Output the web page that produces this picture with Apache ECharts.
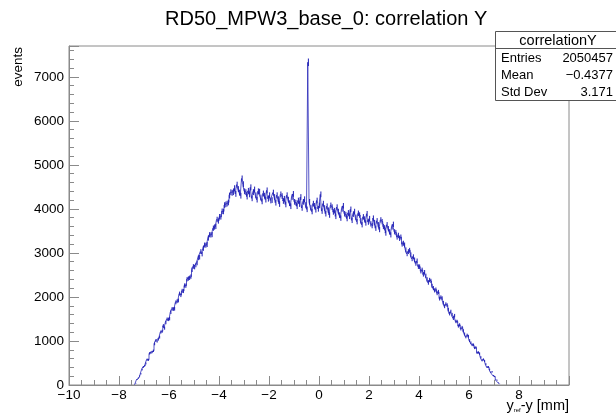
<!DOCTYPE html>
<html>
<head>
<meta charset="utf-8">
<script src="https://cdn.jsdelivr.net/npm/echarts@6/dist/echarts.min.js"></script>
<style>
html,body{margin:0;padding:0;background:#fff;}
#chart{width:616px;height:415px;}
</style>
</head>
<body>
<div id="chart"></div>
<script>
// ---- data ----
const chartTitle = 'RD50_MPW3_base_0: correlation Y';
const xTickLabels = [-10, -8, -6, -4, -2, 0, 2, 4, 6, 8];
const yTickLabels = [0, 1000, 2000, 3000, 4000, 5000, 6000, 7000];
const binWidth = 0.05;
const firstBinLow = -7.4;
// bin contents, bins of 0.05 mm starting at -7.4
const counts = [
  10, 40, 125, 160, 205, 255, 350, 410, 440, 490,
  576, 572, 718, 734, 750, 777, 933, 1009, 995, 1041,
  1087, 1203, 1220, 1346, 1292, 1418, 1494, 1490, 1506, 1653,
  1729, 1725, 1731, 1877, 1903, 1920, 2076, 2042, 2138, 2134,
  2260, 2256, 2403, 2419, 2435, 2461, 2617, 2693, 2679, 2726,
  2772, 2888, 2904, 3030, 2976, 3103, 3179, 3175, 3191, 3337,
  3413, 3409, 3416, 3562, 3588, 3604, 3760, 3726, 3822, 3819,
  3945, 3941, 4087, 4103, 4120, 4146, 4302, 4378, 4364, 4380,
  4470, 4340, 4550, 4450, 4370, 4300, 4690, 4560, 4400, 4380,
  4280, 4410, 4330, 4490, 4240, 4380, 4440, 4310, 4210, 4400,
  4390, 4260, 4170, 4350, 4300, 4210, 4420, 4230, 4310, 4190,
  4200, 4370, 4270, 4140, 4310, 4220, 4110, 4330, 4290, 4180,
  4230, 4100, 4310, 4210, 4130, 4060, 4270, 4340, 4160, 4140,
  4060, 4190, 4110, 4270, 4020, 4160, 4220, 4090, 3990, 7330,
  4160, 4030, 3940, 4120, 4070, 3980, 4190, 4000, 4080, 4330,
  3950, 4120, 4020, 3890, 4060, 3970, 3860, 4080, 4040, 3930,
  3960, 3830, 4040, 3940, 3860, 3790, 4000, 4070, 3890, 3870,
  3780, 3910, 3830, 3990, 3740, 3880, 3940, 3810, 3710, 3900,
  3860, 3730, 3640, 3820, 3770, 3680, 3890, 3700, 3780, 3660,
  3620, 3790, 3690, 3560, 3730, 3640, 3530, 3750, 3710, 3600,
  3570, 3450, 3640, 3550, 3480, 3410, 3590, 3650, 3480, 3460,
  3360, 3400, 3330, 3360, 3200, 3220, 3180, 3070, 2980, 3030,
  3059, 2957, 2866, 2914, 2843, 2761, 2820, 2688, 2687, 2585,
  2614, 2512, 2561, 2479, 2398, 2326, 2385, 2363, 2252, 2200,
  2149, 2167, 2086, 2114, 1963, 1991, 1970, 1868, 1787, 1835,
  1814, 1712, 1621, 1669, 1598, 1516, 1575, 1443, 1442, 1340,
  1365, 1275, 1306, 1232, 1159, 1093, 1132, 1106, 1009, 959,
  913, 913, 844, 851, 733, 740, 713, 629, 560, 581,
  544, 472, 406, 409, 353, 291, 300, 213, 192, 120,
  110, 55, 25
];
const statsName = 'correlationY';
const statsRows = [['Entries', '2050457'], ['Mean', '\u22120.4377'], ['Std Dev', '3.171']];

// ---- chart ----
const FONT = 'Liberation Sans, Arial, Helvetica, sans-serif';
const frameColor = '#8a8a8a';
const lineColor = '#1c1cb4';
// bin centre, content, Poisson error
const histData = counts.map((v, i) => [firstBinLow + (i + 0.5) * binWidth, v, Math.sqrt(v)]);
const minus = s => String(s).replace('-', '\u2212');

const chart = echarts.init(document.getElementById('chart'), null, {renderer: 'canvas'});
const gL = 69, gR = 569, gT = 46, gB = 385;

const statsGraphics = [
  {type: 'rect', z: 100, shape: {x: 495.5, y: 31.5, width: 130, height: 69}, style: {fill: '#fff', stroke: '#555', lineWidth: 1}},
  {type: 'line', z: 101, shape: {x1: 495.5, y1: 48.5, x2: 620, y2: 48.5}, style: {stroke: '#555', lineWidth: 1}},
  {type: 'text', z: 101, x: 558, y: 40.5, style: {text: statsName, align: 'center', verticalAlign: 'middle', fontSize: 14.5, fontFamily: FONT, fill: '#000'}}
];
statsRows.forEach((r, i) => {
  const yy = 58 + i * 17;
  statsGraphics.push({type: 'text', z: 101, x: 501, y: yy, style: {text: r[0], align: 'left', verticalAlign: 'middle', fontSize: 13, fontFamily: FONT, fill: '#000'}});
  statsGraphics.push({type: 'text', z: 101, x: 613, y: yy, style: {text: r[1], align: 'right', verticalAlign: 'middle', fontSize: 13, fontFamily: FONT, fill: '#000'}});
});

const option = {
  backgroundColor: '#fff',
  animation: false,
  title: {
    text: chartTitle, left: 160, top: 4,
    textStyle: {fontSize: 20, fontWeight: 'normal', fontFamily: FONT, color: '#000'}
  },
  grid: {left: gL, right: 616 - gR, top: gT, bottom: 415 - gB, show: true, borderColor: frameColor, borderWidth: 1, backgroundColor: 'transparent'},
  xAxis: {
    type: 'value', min: -10, max: 10, interval: 2,
    axisLine: {show: true, onZero: false, lineStyle: {color: frameColor, width: 1}},
    axisTick: {show: true, inside: true, length: 9, lineStyle: {color: frameColor}},
    minorTick: {show: true, splitNumber: 4, length: 5, lineStyle: {color: frameColor}},
    axisLabel: {
      margin: 3, fontSize: 13.5, fontFamily: FONT, color: '#000',
      formatter: v => (xTickLabels.indexOf(v) >= 0 ? minus(v) : '')
    },
    splitLine: {show: false}, minorSplitLine: {show: false}
  },
  yAxis: [{
    type: 'value', min: 0, max: 7700, interval: 1000, position: 'left',
    axisLine: {show: true, onZero: false, lineStyle: {color: frameColor, width: 1}},
    axisTick: {show: true, inside: true, length: 10, lineStyle: {color: frameColor}},
    axisLabel: {
      margin: 5, fontSize: 13.5, fontFamily: FONT, color: '#000',
      formatter: v => (yTickLabels.indexOf(v) >= 0 ? String(v) : '')
    },
    splitLine: {show: false}
  }, {
    type: 'value', min: 0, max: 7700, interval: 200, position: 'left',
    axisLine: {show: false, onZero: false},
    axisTick: {show: true, inside: true, length: 5, lineStyle: {color: frameColor}},
    axisLabel: {show: false},
    splitLine: {show: false}
  }],
  series: [{
    type: 'line', step: 'middle', data: histData, yAxisIndex: 0,
    encode: {x: 0, y: 1},
    showSymbol: false, symbol: 'none',
    lineStyle: {color: lineColor, width: 1, opacity: 0.75},
    itemStyle: {color: lineColor},
    z: 5
  }, {
    type: 'custom', data: histData, yAxisIndex: 0,
    encode: {x: 0, y: 1},
    renderItem: function (params, api) {
      const x = api.value(0), v = api.value(1), e = api.value(2);
      const p1 = api.coord([x, v - e]);
      const p2 = api.coord([x, v + e]);
      return {type: 'line', shape: {x1: p1[0], y1: p1[1], x2: p2[0], y2: p2[1]},
              style: {stroke: lineColor, lineWidth: 1}};
    },
    z: 6
  }],
  graphic: [
    {type: 'text', z: 100, x: 11, y: 47, rotation: Math.PI / 2,
     style: {text: 'events', align: 'right', verticalAlign: 'top', fontSize: 13.5, fontFamily: FONT, fill: '#000'}},
    {type: 'text', z: 100, x: 569, y: 398,
     style: {
       text: '{a|y}{s|ref}{a|-y [mm]}', align: 'right', verticalAlign: 'top',
       fontFamily: FONT, fill: '#000',
       rich: {
         a: {fontSize: 14.5, lineHeight: 15, fontFamily: FONT, fill: '#000'},
         s: {fontSize: 6, lineHeight: 7, verticalAlign: 'bottom', fontFamily: FONT, fill: '#000'}
       }
     }}
  ].concat(statsGraphics)
};
chart.setOption(option);
</script>
</body>
</html>
